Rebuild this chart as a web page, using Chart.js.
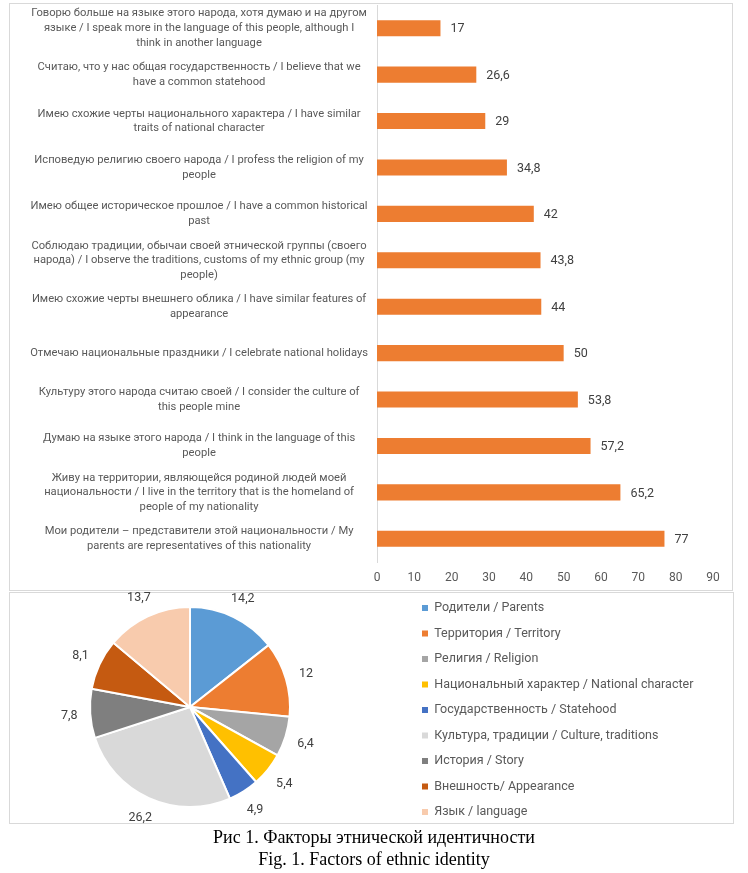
<!DOCTYPE html>
<html>
<head>
<meta charset="utf-8">
<script src="https://cdn.jsdelivr.net/npm/chart.js@4.4.1/dist/chart.umd.min.js"></script>
<style>
body { margin: 0; width: 748px; height: 873px; background: #fff; position: relative; overflow: hidden; }
.box { position: absolute; border: 1px solid #d9d9d9; box-sizing: border-box; }
#barBox { left: 9px; top: 3px; width: 724px; height: 588px; }
#pieBox { left: 9px; top: 592px; width: 725px; height: 232px; }
#barWrap { position: absolute; left: 9px; top: 3px; width: 724px; height: 588px; }
#pieWrap { position: absolute; left: 9px; top: 577px; width: 725px; height: 260px; }
.cap { position: absolute; left: 0; width: 748px; text-align: center; font-family: "Liberation Serif", serif; font-size: 18px; line-height: 22px; color: #000; }
</style>
</head>
<body>
<div class="box" id="barBox"></div>
<div class="box" id="pieBox"></div>
<div id="barWrap"><canvas id="barChart"></canvas></div>
<div id="pieWrap"><canvas id="pieChart"></canvas></div>
<div class="cap" style="top:826px">Рис 1. Факторы этнической идентичности</div>
<div class="cap" style="top:848px">Fig. 1. Factors of ethnic identity</div>
<script>
// bar chart data, top to bottom
var barLabels = [
    ["Говорю больше на языке этого народа, хотя думаю и на другом", "языке / I speak more in the language of this people, although I", "think in another language"],
    ["Считаю, что у нас общая государственность / I believe that we", "have a common statehood"],
    ["Имею схожие черты национального характера / I have similar", "traits of national character"],
    ["Исповедую религию своего народа / I profess the religion of my", "people"],
    ["Имею общее историческое прошлое / I have a common historical", "past"],
    ["Соблюдаю традиции, обычаи своей этнической группы (своего", "народа) / I observe the traditions, customs of my ethnic group (my", "people)"],
    ["Имею схожие черты внешнего облика / I have similar features of", "appearance"],
    ["Отмечаю национальные праздники / I celebrate national holidays"],
    ["Культуру этого народа считаю своей / I consider the culture of", "this people mine"],
    ["Думаю на языке этого народа / I think in the language of this", "people"],
    ["Живу на территории, являющейся родиной людей моей", "национальности / I live in the territory that is the homeland of", "people of my nationality"],
    ["Мои родители – представители этой национальности / My", "parents are representatives of this nationality"]
];
var barValues = [17, 26.6, 29, 34.8, 42, 43.8, 44, 50, 53.8, 57.2, 65.2, 77];
var barMax = 90;
var barStep = 10;

// pie chart data
var pieLabels = ["Родители / Parents",
                 "Территория / Territory",
                 "Религия / Religion",
                 "Национальный характер / National character",
                 "Государственность / Statehood",
                 "Культура, традиции / Culture, traditions",
                 "История / Story",
                 "Внешность/ Appearance",
                 "Язык / language"];
var pieValues = [14.2, 12, 6.4, 5.4, 4.9, 26.2, 7.8, 8.1, 13.7];
var pieColors = ["#5b9bd5", "#ed7d31", "#a5a5a5", "#ffc000", "#4472c4",
                 "#d9d9d9", "#7f7f7f", "#c55a11", "#f8cbad"];

Chart.defaults.font.family = "Roboto";
Chart.defaults.animation = false;

function fmt(v)
{
    return String(v).replace(".", ",");
}

var barValueLabels = {
    id: "barValueLabels",
    afterDatasetsDraw: function(chart)
    {
        var ctx = chart.ctx;
        var data = chart.data.datasets[0].data;
        ctx.save();
        ctx.font = "12.5px Roboto";
        ctx.fillStyle = "#404040";
        ctx.textAlign = "left";
        ctx.textBaseline = "middle";
        chart.getDatasetMeta(0).data.forEach(function(bar, i)
        {
            ctx.fillText(fmt(data[i]), bar.x + 10, bar.y + 1);
        });
        ctx.restore();
    }
};

new Chart(document.getElementById("barChart"), {
    type: "bar",
    data: {
        labels: barLabels,
        datasets: [{
            data: barValues,
            backgroundColor: "#ed7d31",
            barPercentage: 0.345,
            categoryPercentage: 1
        }]
    },
    options: {
        indexAxis: "y",
        responsive: true,
        maintainAspectRatio: false,
        layout: { padding: { top: 2, right: 20, bottom: 5, left: 0 } },
        plugins: { legend: { display: false }, tooltip: { enabled: false } },
        scales: {
            x: {
                min: 0, max: barMax,
                ticks: { stepSize: barStep, color: "#595959", font: { size: 12 }, padding: 9 },
                grid: { display: false, drawTicks: false },
                border: { display: false },
                afterFit: function(scale)
                {
                    scale.height = 24;
                    scale.paddingLeft = 0;
                    scale.paddingRight = 0;
                }
            },
            y: {
                ticks: { crossAlign: "center", padding: 9, color: "#595959", autoSkip: false,
                         font: { size: 11.2, lineHeight: 1.3 } },
                grid: { display: false, drawTicks: false },
                border: { display: true, color: "#d9d9d9" },
                afterFit: function(scale)
                {
                    scale.width = 368;
                    scale.paddingTop = 0;
                    scale.paddingBottom = 0;
                }
            }
        }
    },
    plugins: [barValueLabels]
});

var pieValueLabels = {
    id: "pieValueLabels",
    afterDatasetsDraw: function(chart)
    {
        var ctx = chart.ctx;
        var data = chart.data.datasets[0].data;
        ctx.save();
        ctx.font = "12.5px Roboto";
        ctx.fillStyle = "#404040";
        ctx.textAlign = "center";
        ctx.textBaseline = "middle";
        chart.getDatasetMeta(0).data.forEach(function(arc, i)
        {
            var a = (arc.startAngle + arc.endAngle) / 2;
            var r = arc.outerRadius + 21;
            ctx.fillText(fmt(data[i]), arc.x + Math.cos(a) * r, arc.y + Math.sin(a) * r + 1);
        });
        ctx.restore();
    }
};

// keep the pie on the left and the legend where the reference has it
var pinPie = {
    id: "pinPie",
    afterLayout: function(chart)
    {
        var lg = chart.legend;
        var w = lg.right - lg.left;
        lg.left = 413 - lg.options.labels.padding;
        lg.right = lg.left + w;
        lg.top += 3;
        lg.bottom += 3;
        var ca = chart.chartArea;
        ca.left = 0;
        ca.right = 362;
        ca.width = 362;
    }
};

new Chart(document.getElementById("pieChart"), {
    type: "pie",
    data: {
        labels: pieLabels,
        datasets: [{
            data: pieValues,
            backgroundColor: pieColors,
            borderColor: "#ffffff",
            borderWidth: 2,
            radius: 100
        }]
    },
    options: {
        responsive: true,
        maintainAspectRatio: false,
        layout: { padding: 0 },
        plugins: {
            tooltip: { enabled: false },
            legend: {
                position: "right",
                align: "center",
                labels: {
                    boxWidth: 6, boxHeight: 6, padding: 13,
                    color: "#595959", font: { size: 12.5 },
                    generateLabels: function(chart)
                    {
                        var items = Chart.overrides.pie.plugins.legend.labels.generateLabels(chart);
                        items.forEach(function(it) { it.lineWidth = 0; });
                        return items;
                    }
                }
            }
        }
    },
    plugins: [pieValueLabels, pinPie]
});
</script>
</body>
</html>
